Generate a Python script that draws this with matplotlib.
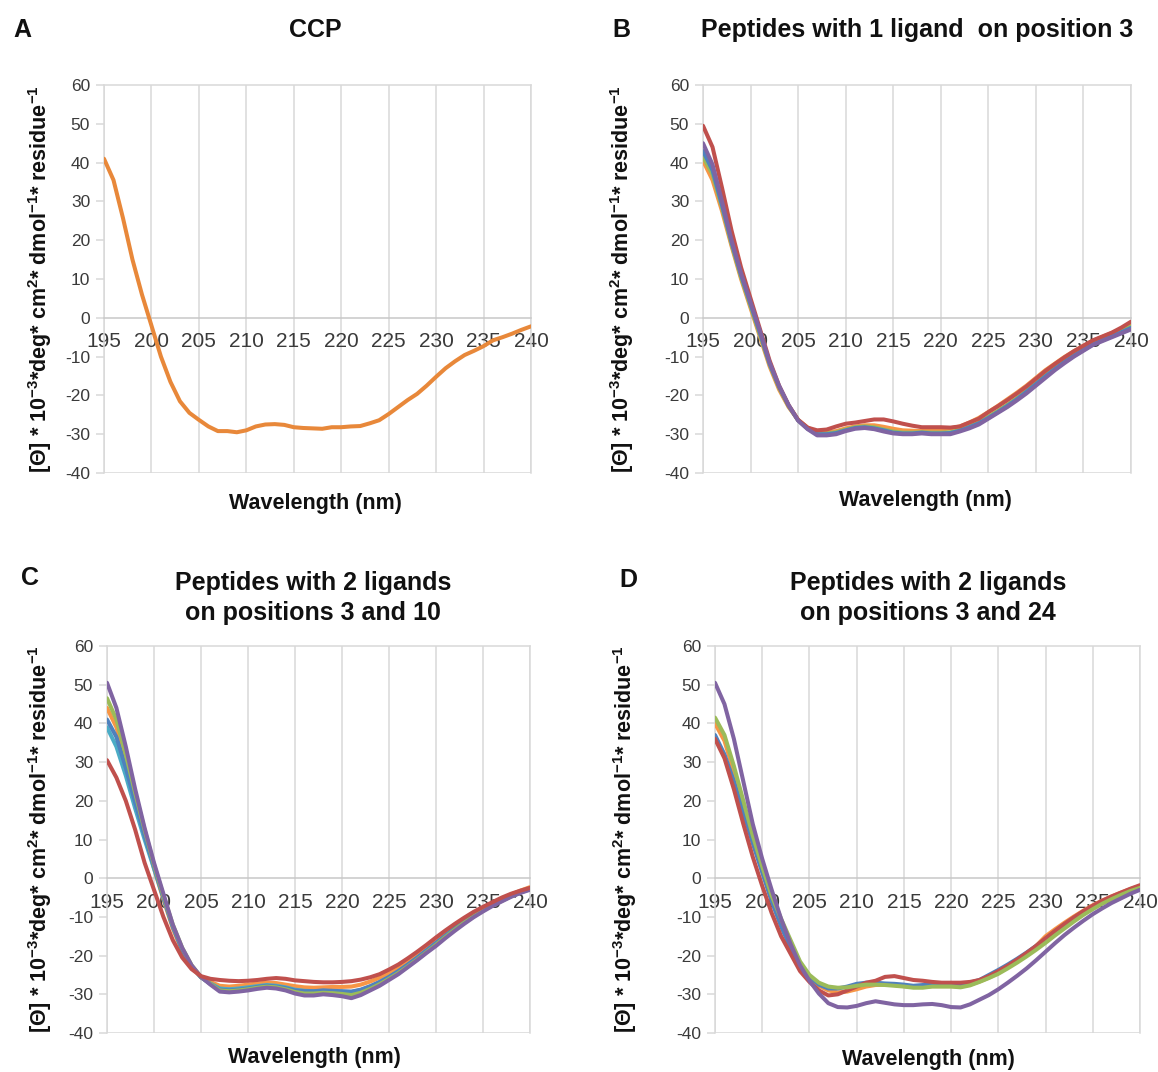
import numpy as np
import matplotlib
matplotlib.use("Agg")
import matplotlib.pyplot as plt

plt.rcParams['font.family'] = ['Liberation Sans', 'DejaVu Sans']
plt.rcParams['mathtext.fontset'] = 'custom'
plt.rcParams['mathtext.rm'] = 'Liberation Sans:bold'
plt.rcParams['mathtext.it'] = 'Liberation Sans:bold'
plt.rcParams['mathtext.bf'] = 'Liberation Sans:bold'

# ---------------- data ----------------
wavelength = list(range(195, 241))
x_ticks = [195, 200, 205, 210, 215, 220, 225, 230, 235, 240]
y_ticks = [-40, -30, -20, -10, 0, 10, 20, 30, 40, 50, 60]

ccp = [41, 35.5, 25.7, 15, 6, -2, -10, -16.5, -21.5, -24.5, -26.3,
       -28, -29.2, -29.2, -29.5, -29, -28, -27.5, -27.4, -27.6, -28.2,
       -28.4, -28.5, -28.6, -28.2, -28.2, -28, -27.9, -27.2, -26.4, -24.8,
       -23, -21.2, -19.6, -17.5, -15.2, -13, -11.2, -9.6, -8.5, -7.3,
       -5.8, -5, -4.1, -3.1, -2.2]

# Panel B: 1 ligand on position 3
b_orange = [40.5, 35.5, 27.5, 18.5, 10, 2.5, -5, -12.5, -18.5, -23, -26.3,
            -28.3, -29.5, -29.5, -29.2, -28.5, -28, -27.7, -27.7, -28.1, -28.6,
            -29, -29.1, -29.2, -29, -28.8, -28.5, -28, -27, -25.8, -24.3,
            -22.7, -21, -19.3, -17.5, -15.5, -13.5, -11.8, -10.1, -8.6, -7.2,
            -5.9, -4.9, -3.9, -2.8, -1.6]
b_green = [41.5, 37, 28.5, 19, 10.5, 3, -4.5, -12, -18, -22.8, -26.4,
           -28.5, -29.8, -29.8, -29.5, -28.8, -28.2, -28, -28.2, -28.8, -29.3,
           -29.6, -29.6, -29.5, -29.6, -29.6, -29.5, -28.9, -28, -27, -25.5,
           -24, -22.4, -20.7, -18.8, -16.8, -14.8, -12.9, -11.1, -9.5, -8,
           -6.6, -5.5, -4.5, -3.4, -2.2]
b_blue = [43, 38, 29, 19.5, 11, 3.5, -4, -11.8, -17.8, -22.6, -26.4,
          -28.6, -30, -30, -29.7, -29, -28.4, -28.2, -28.5, -29, -29.6,
          -29.8, -29.8, -29.6, -29.8, -29.8, -29.7, -29.1, -28.2, -27.2, -25.8,
          -24.3, -22.7, -21, -19.1, -17.1, -15.1, -13.2, -11.4, -9.8, -8.3,
          -6.9, -5.8, -4.8, -3.7, -2.6]
b_red = [49.5, 44, 33.5, 22.5, 13, 5, -3, -11, -17.5, -22.5, -26.3,
         -28.3, -29, -28.8, -28, -27.3, -27, -26.6, -26.2, -26.2, -26.7,
         -27.3, -27.8, -28.2, -28.2, -28.2, -28.3, -28, -27, -26, -24.3,
         -22.8, -21.2, -19.5, -17.7, -15.7, -13.7, -11.9, -10.2, -8.6, -7.2,
         -5.8, -4.8, -3.8, -2.5, -1]
b_purple = [45, 39.5, 30, 20, 11.5, 4, -3.5, -11.5, -17.5, -22.5, -26.5,
            -28.7, -30.3, -30.3, -30, -29.2, -28.6, -28.4, -28.7, -29.3, -29.8,
            -30, -30, -29.8, -30, -30, -30, -29.3, -28.5, -27.5, -26,
            -24.5, -23, -21.3, -19.5, -17.5, -15.5, -13.5, -11.7, -10, -8.5,
            -7, -6, -5, -4, -3]

# Panel C: 2 ligands on positions 3 and 10
c_orange = [44, 39, 30.5, 21, 11.5, 2.5, -5.5, -13, -19, -23, -25.6,
            -26.8, -27.8, -28, -27.8, -27.5, -27.2, -27, -27.1, -27.5, -27.9,
            -28.2, -28.3, -28.2, -28.1, -28.1, -28, -27.5, -26.7, -25.7, -24.5,
            -23, -21.4, -19.7, -17.9, -16, -14.1, -12.3, -10.7, -9.2, -7.8,
            -6.5, -5.3, -4.2, -3.2, -2.3]
c_aqua = [39, 34, 26.5, 18, 10, 2.5, -5, -12.5, -18.5, -22.8, -25.6,
          -27.2, -28.5, -28.7, -28.5, -28.2, -27.9, -27.6, -27.8, -28.2, -28.8,
          -29.1, -29.2, -29.1, -29.2, -29.3, -29.4, -28.9, -28, -26.9, -25.6,
          -24.1, -22.5, -20.7, -18.8, -16.9, -15, -13.1, -11.4, -9.8, -8.3,
          -7, -5.8, -4.7, -3.7, -2.8]
c_blue = [41, 36.5, 28.5, 19.5, 11, 3, -5, -12.5, -18.5, -22.8, -25.6,
          -27.3, -28.8, -29, -28.8, -28.5, -28.1, -27.8, -28, -28.4, -29,
          -29.2, -29.2, -29, -29.1, -29.2, -29.3, -28.8, -27.9, -26.8, -25.5,
          -24, -22.3, -20.5, -18.6, -16.7, -14.8, -12.9, -11.2, -9.6, -8.2,
          -6.9, -5.7, -4.6, -3.6, -2.8]
c_green = [46.5, 41, 32, 22, 12.5, 3.5, -4.5, -12, -18, -22.5, -25.5,
           -27.3, -29, -29.2, -29, -28.7, -28.3, -28, -28.2, -28.7, -29.4,
           -29.8, -29.8, -29.6, -29.7, -29.9, -30.2, -29.6, -28.6, -27.4, -26,
           -24.5, -22.8, -21, -19.1, -17.2, -15.2, -13.3, -11.5, -9.9, -8.4,
           -7, -5.8, -4.6, -3.6, -2.8]
c_purple = [50.5, 44, 34, 23, 13, 4, -4, -12, -18, -22.5, -25.5,
            -27.5, -29.3, -29.5, -29.3, -29, -28.6, -28.3, -28.5, -29, -29.8,
            -30.3, -30.3, -30, -30.2, -30.5, -31, -30.2, -29, -27.8, -26.3,
            -24.8, -23, -21.2, -19.3, -17.5, -15.5, -13.6, -11.8, -10.1, -8.6,
            -7.2, -6, -4.8, -3.8, -3]
c_red = [30.5, 26, 20, 12.5, 4, -3, -10, -16, -20.5, -23.5, -25.3,
         -26, -26.3, -26.5, -26.6, -26.5, -26.3, -26, -25.8, -26, -26.4,
         -26.6, -26.8, -26.9, -26.9, -26.8, -26.6, -26.2, -25.6, -24.8, -23.6,
         -22.3, -20.7, -19, -17.2, -15.3, -13.5, -11.8, -10.2, -8.7, -7.4,
         -6.2, -5, -4, -3.2, -2.5]

# Panel D: 2 ligands on positions 3 and 24
d_orange = [40, 35.5, 27.5, 19, 10.5, 2.5, -5, -11.5, -17, -22, -25.5,
            -27.8, -29, -29.5, -29.3, -28.7, -28, -27.6, -27.5, -27.6, -27.9,
            -28.1, -28.1, -27.9, -27.9, -27.9, -28, -27.5, -26.7, -25.7, -24.5,
            -23, -21.3, -19.5, -17.5, -15, -13.2, -11.5, -9.9, -8.4, -7,
            -5.8, -4.7, -3.7, -2.8, -2]
d_blue = [37, 32, 25, 17, 9, 1.5, -6, -12.5, -18, -22.5, -25.5,
          -27.5, -28.5, -28.5, -28, -27.3, -27, -27, -27.2, -27.3, -27.5,
          -27.8, -27.6, -27.2, -27.2, -27.2, -27.3, -27, -26.3, -25, -23.7,
          -22.3, -20.8, -19.2, -17.5, -15.7, -14, -12.2, -10.6, -9, -7.6,
          -6.4, -5.3, -4.3, -3.3, -2.5]
d_red = [36, 31, 23, 14, 5.5, -2, -9, -15, -19.5, -24, -26.8,
         -29, -30.3, -30, -29, -28, -27, -26.5, -25.5, -25.3, -25.8,
         -26.3, -26.5, -26.8, -27, -27, -27, -26.8, -26.3, -25.3, -24,
         -22.6, -21, -19.3, -17.5, -15.5, -13.6, -11.8, -10.1, -8.5, -7.1,
         -5.8, -4.7, -3.7, -2.7, -1.8]
d_green = [41.5, 37, 29, 20, 11, 3, -4.5, -10.5, -16, -21.5, -25,
           -27, -28, -28.3, -28.2, -27.8, -27.5, -27.5, -27.6, -27.8, -28,
           -28.3, -28.3, -28, -28, -28, -28.2, -27.7, -26.8, -25.8, -24.7,
           -23.3, -21.8, -20.2, -18.5, -16.7, -14.8, -13, -11.2, -9.5, -8,
           -6.6, -5.4, -4.3, -3.3, -2.5]
d_purple = [50.5, 45, 36, 25, 14, 5, -3, -10.5, -17, -22.5, -26.5,
            -29.8, -32.3, -33.3, -33.4, -33, -32.3, -31.8, -32.2, -32.6, -32.8,
            -32.8, -32.6, -32.5, -32.8, -33.3, -33.4, -32.6, -31.4, -30.2, -28.7,
            -27, -25.2, -23.3, -21.2, -19, -16.8, -14.7, -12.8, -11, -9.3,
            -7.8, -6.4, -5.2, -4, -3]

COL = {'blue': '#4F81BD', 'red': '#C0504D', 'green': '#9BBB59',
       'purple': '#8064A2', 'aqua': '#4BACC6', 'orange': '#F79646',
       'ccp': '#E8883A'}

panels = [
    dict(letter='A', title='CCP', rect=(104, 85, 531, 473),
         series=[(ccp, COL['ccp'])],
         title_xy=(315, 30), letter_xy=(22, 30), xlabel_xy=(315, 503), ylabel_x=40),
    dict(letter='B', title='Peptides with 1 ligand  on position 3', rect=(703, 85, 1131, 473),
         series=[(b_orange, COL['orange']), (b_green, COL['green']), (b_blue, COL['blue']),
                 (b_red, COL['red']), (b_purple, COL['purple'])],
         title_xy=(917, 30), letter_xy=(621, 30), xlabel_xy=(925, 500), ylabel_x=622),
    dict(letter='C', title='Peptides with 2 ligands\non positions 3 and 10', rect=(107, 646, 530, 1033),
         series=[(c_orange, COL['orange']), (c_aqua, COL['aqua']), (c_blue, COL['blue']),
                 (c_green, COL['green']), (c_purple, COL['purple']), (c_red, COL['red'])],
         title_xy=(313, 598), letter_xy=(30, 578), xlabel_xy=(314, 1058), ylabel_x=40),
    dict(letter='D', title='Peptides with 2 ligands\non positions 3 and 24', rect=(715, 646, 1140, 1033),
         series=[(d_orange, COL['orange']), (d_blue, COL['blue']), (d_red, COL['red']),
                 (d_green, COL['green']), (d_purple, COL['purple'])],
         title_xy=(928, 598), letter_xy=(628, 580), xlabel_xy=(928, 1060), ylabel_x=625),
]

W, H = 1158, 1072
fig = plt.figure(figsize=(W / 100, H / 100), dpi=100)

def fx(x):
    return x / W

def fy(y):
    return 1 - y / H

GRID = '#D9D9D9'
TICKC = '#3A3A3A'
ylab = r'[Θ] * 10$^{-3}$*deg* cm$^{2}$* dmol$^{-1}$* residue$^{-1}$'

for p in panels:
    l, t, r, b = p['rect']
    ax = fig.add_axes([fx(l), fy(b), (r - l) / W, (b - t) / H])
    ax.set_xlim(195, 240)
    ax.set_ylim(-40, 60)
    for xv in x_ticks:
        ax.axvline(xv, color=GRID, lw=1.1, zorder=0)
    ax.axhline(-40, color=GRID, lw=1.1, zorder=0)
    for sp in ['top', 'right', 'left', 'bottom']:
        ax.spines[sp].set_color(GRID)
        ax.spines[sp].set_linewidth(1.1)
    ax.spines['bottom'].set_position(('data', 0))
    ax.spines['bottom'].set_color('#C8C8C8')
    ax.set_xticks(x_ticks)
    ax.set_xticklabels([str(v) for v in x_ticks])
    ax.set_yticks(y_ticks)
    ax.set_yticklabels([str(v) for v in y_ticks])
    ax.tick_params(axis='x', length=0, pad=10.5, labelsize=15, labelcolor=TICKC)
    ax.tick_params(axis='y', length=6, width=1.1, color=GRID, pad=4, labelsize=12.5, labelcolor=TICKC)
    for ys, c in p['series']:
        ax.plot(wavelength, ys, color=c, lw=2.9, solid_joinstyle='round', solid_capstyle='round', zorder=3)

    cy = (t + b) / 2
    fig.text(fx(p['ylabel_x']), fy(cy), ylab, rotation=90, ha='center', va='center',
             fontsize=15.5, fontweight='bold', color='#111111')
    fig.text(fx(p['title_xy'][0]), fy(p['title_xy'][1]), p['title'], ha='center', va='center',
             fontsize=18, fontweight='bold', color='#111111', linespacing=1.3)
    fig.text(fx(p['letter_xy'][0]), fy(p['letter_xy'][1]), p['letter'], ha='center', va='center',
             fontsize=18, fontweight='bold', color='#111111')
    fig.text(fx(p['xlabel_xy'][0]), fy(p['xlabel_xy'][1]), 'Wavelength (nm)', ha='center', va='center',
             fontsize=15.5, fontweight='bold', color='#111111')

fig.savefig('out.png', dpi=100)
